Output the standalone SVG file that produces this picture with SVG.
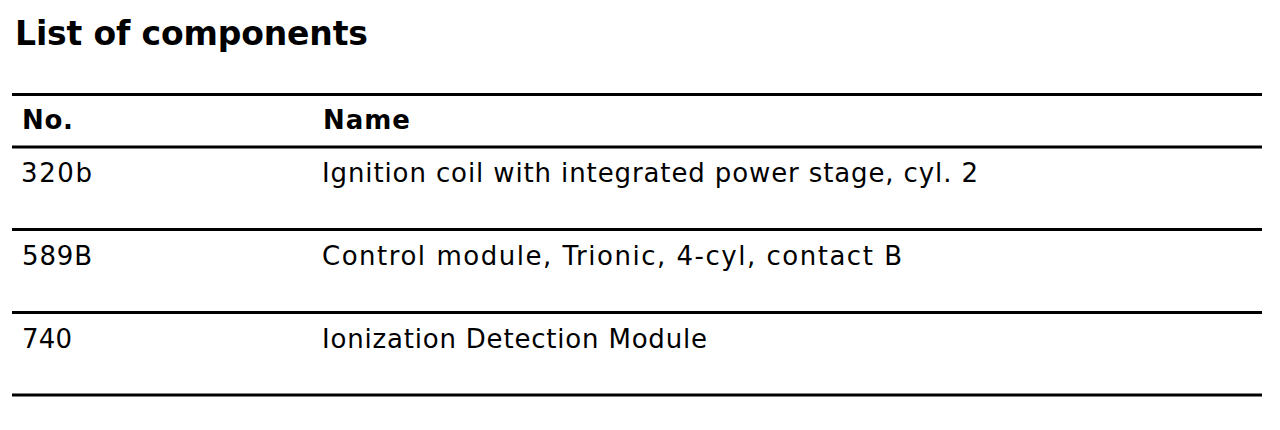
<svg xmlns="http://www.w3.org/2000/svg" width="1280" height="430" viewBox="0 0 1280 430">
<style>
.t{font-family:"DejaVu Sans","Verdana",sans-serif;fill:#000}
.title{font-size:33px;font-weight:bold}
.h{font-size:26px;font-weight:bold}
.b{font-size:26px}
.rule{stroke:#000;stroke-width:3}
</style>
<rect width="1280" height="430" fill="#fff"/>
<text id="title" class="t title" x="15" y="45" textLength="353" lengthAdjust="spacing">List of components</text>
<g id="rules">
<line class="rule" x1="12" y1="94.5" x2="1262" y2="94.5"/>
<line class="rule" x1="12" y1="147" x2="1262" y2="147"/>
<line class="rule" x1="12" y1="229.5" x2="1262" y2="229.5"/>
<line class="rule" x1="12" y1="312.5" x2="1262" y2="312.5"/>
<line class="rule" x1="12" y1="395" x2="1262" y2="395"/>
</g>
<g id="header">
<text class="t h" x="22" y="129" textLength="51" lengthAdjust="spacing">No.</text>
<text class="t h" x="323" y="129" textLength="87" lengthAdjust="spacing">Name</text>
</g>
<g id="row-320b">
<text class="t b" x="21" y="182" textLength="71" lengthAdjust="spacing">320b</text>
<text class="t b" x="322" y="182" textLength="656" lengthAdjust="spacing">Ignition coil with integrated power stage, cyl. 2</text>
</g>
<g id="row-589B">
<text class="t b" x="22" y="265" textLength="70" lengthAdjust="spacing">589B</text>
<text class="t b" x="322" y="265" textLength="580" lengthAdjust="spacing">Control module, Trionic, 4-cyl, contact B</text>
</g>
<g id="row-740">
<text class="t b" x="22" y="348" textLength="50" lengthAdjust="spacing">740</text>
<text class="t b" x="322" y="348" textLength="385" lengthAdjust="spacing">Ionization Detection Module</text>
</g>
</svg>
